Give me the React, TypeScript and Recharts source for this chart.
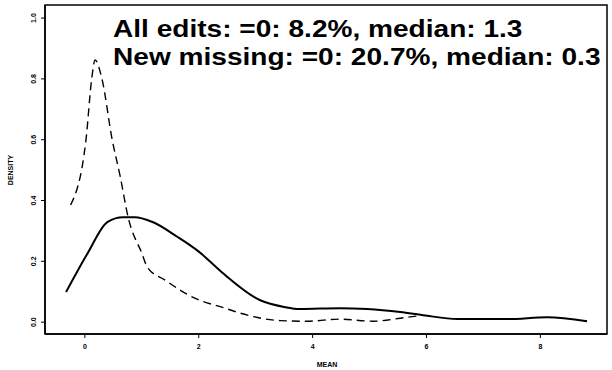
import React from "react";
import {
  ComposedChart,
  Line,
  XAxis,
  YAxis,
  ReferenceArea,
  Customized,
} from "recharts";

// Kernel density estimate of per-record mean, all edits
const allEditsX = [-0.33, 0.05, 0.4, 0.67, 0.88, 1.18, 1.63, 2.0, 2.4, 3.08, 3.5, 3.78, 4.48, 4.96, 5.54, 5.94, 6.54, 7.42, 8.12, 8.82];
const allEditsY = [0.099, 0.227, 0.33, 0.345, 0.345, 0.33, 0.28, 0.232, 0.165, 0.072, 0.05, 0.043, 0.046, 0.043, 0.033, 0.023, 0.01, 0.01, 0.016, 0.003];

// Kernel density estimate, new missing only
const newMissingX = [-0.25, 0.02, 0.12, 0.18, 0.3, 0.48, 0.62, 0.76, 1.0, 1.1, 1.41, 1.93, 2.02, 2.46, 2.72, 3.43, 3.9, 4.48, 5.06, 5.54, 5.94];
const newMissingY = [0.385, 0.6, 0.8, 0.862, 0.8, 0.6, 0.48, 0.345, 0.227, 0.18, 0.138, 0.079, 0.072, 0.046, 0.03, 0.005, 0.003, 0.01, 0.003, 0.013, 0.023];

const xTicks = [0, 2, 4, 6, 8];
const yTicks = [0, 0.2, 0.4, 0.6, 0.8, 1.0];

const xDomain: [number, number] = [-0.7, 9.17];
const yDomain: [number, number] = [-0.039, 1.043];

const annotationLines = [
  "All edits: =0: 8.2%, median: 1.3",
  "New missing: =0: 20.7%, median: 0.3",
];

const allEdits = allEditsX.map((x, i) => ({ x, y: allEditsY[i] }));
const newMissing = newMissingX.map((x, i) => ({ x, y: newMissingY[i] }));

const FONT = "'Liberation Sans', Arial, Helvetica, sans-serif";

const YTick = (props: any) => {
  const { y, payload } = props;
  const x = 36;
  return (
    <text
      x={x}
      y={y}
      transform={`rotate(-90, ${x}, ${y})`}
      textAnchor="middle"
      fontSize={7}
      fontWeight="bold"
      fontFamily={FONT}
      fill="#000"
    >
      {Number(payload.value).toFixed(1)}
    </text>
  );
};

const Annotations = () => (
  <g>
    {annotationLines.map((t, i) => (
      <text
        key={i}
        x={0}
        y={0}
        transform={`translate(113, ${37 + i * 28}) scale(1.17, 1)`}
        fontSize={24}
        fontWeight="bold"
        fontFamily={FONT}
        fill="#000"
      >
        {t}
      </text>
    ))}
    <text
      x={13}
      y={170}
      transform="rotate(-90, 13, 170)"
      textAnchor="middle"
      fontSize={7}
      fontWeight="bold"
      fontFamily={FONT}
      fill="#000"
    >
      DENSITY
    </text>
    <text
      x={327}
      y={367}
      textAnchor="middle"
      fontSize={7}
      fontWeight="bold"
      fontFamily={FONT}
      fill="#000"
    >
      MEAN
    </text>
  </g>
);

export default function App() {
  return (
    <div style={{ position: "absolute", left: 0, top: 0, background: "#fff" }}>
      <ComposedChart
        width={612}
        height={370}
        margin={{ top: 5, right: 5, bottom: 0, left: 0 }}
      >
        <XAxis
          dataKey="x"
          type="number"
          domain={xDomain}
          ticks={xTicks}
          allowDataOverflow
          height={36}
          tickSize={4}
          tickMargin={6}
          axisLine={{ stroke: "#000", strokeWidth: 1.5 }}
          tickLine={{ stroke: "#000" }}
          tick={{ fontSize: 7, fontWeight: "bold", fill: "#000", fontFamily: FONT }}
        />
        <YAxis
          type="number"
          domain={yDomain}
          ticks={yTicks}
          allowDataOverflow
          width={45}
          tickSize={4}
          axisLine={{ stroke: "#000", strokeWidth: 1.5 }}
          tickLine={{ stroke: "#000" }}
          tick={<YTick />}
        />
        <ReferenceArea
          x1={xDomain[0]}
          x2={xDomain[1]}
          y1={yDomain[0]}
          y2={yDomain[1]}
          fill="none"
          stroke="#000"
          strokeWidth={1.5}
        />
        <Line
          data={allEdits}
          dataKey="y"
          type="monotone"
          stroke="#000"
          strokeWidth={2}
          dot={false}
          isAnimationActive={false}
        />
        <Line
          data={newMissing}
          dataKey="y"
          type="monotone"
          stroke="#000"
          strokeWidth={1.4}
          strokeDasharray="8 5"
          dot={false}
          isAnimationActive={false}
        />
        <Customized component={Annotations} />
      </ComposedChart>
    </div>
  );
}
